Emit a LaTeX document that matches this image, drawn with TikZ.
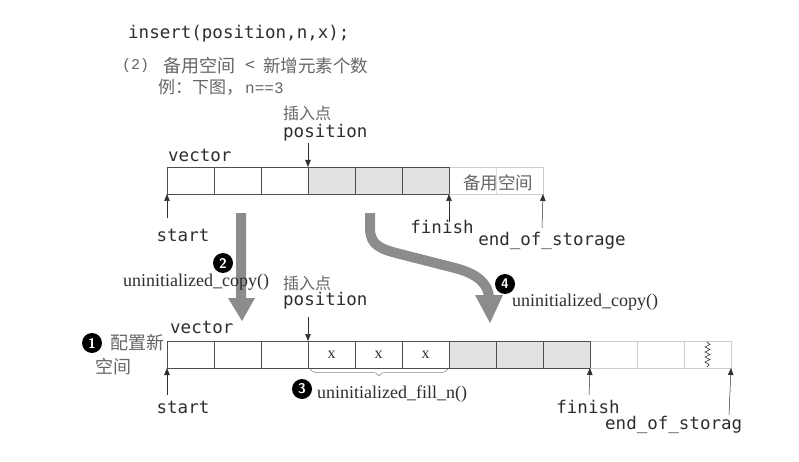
\documentclass[tikz,border=0pt]{standalone}
\usepackage{fontspec}
\setmainfont{Liberation Serif}
\setmonofont{DejaVu Sans Mono}
\newfontfamily\cjk{Noto Sans CJK SC}
\newfontfamily\lmono{Liberation Mono}
\usetikzlibrary{arrows.meta,decorations.pathreplacing}
\definecolor{ink}{HTML}{2E2E2E}
\definecolor{soft}{HTML}{666666}
\definecolor{big}{HTML}{8C8C8C}
\definecolor{shade}{HTML}{E2E2E2}
\definecolor{spare}{HTML}{CCCCCC}
\definecolor{faint}{HTML}{E0E0E0}
\tikzset{
  cell/.style={draw=ink!85, minimum width=47pt, minimum height=27pt, inner sep=0pt, outer sep=0pt, line width=0.6pt},
  gcell/.style={cell, fill=shade},
  scell/.style={cell, draw=spare, line width=0.5pt},
  ptr/.style={-{Triangle[length=7pt,width=5.5pt]}, draw=ink, line width=0.5pt},
  mono/.style={font=\ttfamily\fontsize{17.5}{18}\selectfont, text=ink, inner sep=0pt},
  serif/.style={font=\fontsize{18}{18}\selectfont, text=ink, inner sep=0pt},
  zh/.style={font=\cjk\fontsize{16}{16}\selectfont, text=soft, inner sep=0pt},
  zhbig/.style={font=\cjk\fontsize{17.5}{18}\selectfont, text=soft, inner sep=0pt},
  num/.style={circle, fill=black, text=white, minimum size=20pt, inner sep=0pt, font=\sffamily\bfseries\fontsize{14}{14}\selectfont},
  bigarrow/.style={fill=big},
}
\begin{document}
\begin{tikzpicture}[x=1pt,y=-1pt]
\useasboundingbox (0,0) rectangle (799,462);
\fill[white] (0,0) rectangle (799,462);

% header
\node[mono, anchor=west] (hdr) at (128,34) {insert(position,n,x);};
\node[font=\lmono\fontsize{15}{15}\selectfont, text=soft, inner sep=0pt, anchor=west] (two) at (122,66) {(2)};
\node[zhbig, font=\cjk\fontsize{18}{18}\selectfont, anchor=west] (cond1) at (163,66) {备用空间};
\node[zhbig, anchor=center] (lt) at (250,66) {<};
\node[zhbig, anchor=west] (cond2) at (263,66) {新增元素个数};
\node[zhbig, font=\cjk\fontsize{17}{17}\selectfont, anchor=west] (ex) at (158,87) {例：下图，};
\node[font=\lmono\fontsize{16}{16}\selectfont, text=soft, inner sep=0pt, anchor=west] (n3) at (245,88) {n==3};

% big arrows (behind)
\fill[bigarrow] (236,213) -- (246,213) -- (246,298) -- (255,298) -- (242,321) -- (228,298) -- (236,298) -- cycle;
\draw[big, line width=10pt] (370,213) -- (370,230) .. controls (371,245) and (380,249) .. (400,254) -- (455,268) .. controls (478,274) and (488,284) .. (489,297);
\fill[bigarrow] (475,295) -- (503,295) -- (490,323) -- cycle;

% top array
\foreach \i in {1,2,3} \node[cell] (t\i) at ({190.5+47*(\i-1)},180.5) {};
\foreach \i in {4,5,6} \node[gcell] (t\i) at ({190.5+47*(\i-1)},180.5) {};
\foreach \i in {7,8} \node[scell] (t\i) at ({190.5+47*(\i-1)},180.5) {};
\draw[faint, line width=0.6pt] (t7.north east) -- (t7.south east);
\draw[ink!85, line width=0.6pt] (t6.north east) -- (t6.south east);
\node[zhbig] (spare1) at (498,183) {备用空间};

\node[mono, anchor=west] (vec1) at (168,155) {vector};
\node[zh, anchor=west] (ins1) at (283,113) {插入点};
\node[mono, anchor=west] (pos1) at (283,133) {position};
\coordinate (pa1) at (308,143);
\draw[ptr] (pa1) -- (t4.north west);
\node[mono] (st1) at (183,235) {start};
\coordinate (sa1) at (167,218);
\draw[ptr] (sa1) -- (t1.south west);
\node[mono] (fi1) at (442,227) {finish};
\coordinate (fa1) at (449,222);
\draw[ptr] (fa1) -- (t6.south east);
\node[mono] (eos1) at (552,241) {end\_of\_storage};
\coordinate (ea1) at (542,228);
\draw[ptr] (ea1) -- (t8.south east);

% bottom array
\foreach \i in {1,2,3} \node[cell] (b\i) at ({190.5+47*(\i-1)},354.5) {};
\foreach \i in {4,5,6} \node[cell, font=\fontsize{16}{16}\selectfont, text=ink] (b\i) at ({190.5+47*(\i-1)},354.5) {x};
\foreach \i in {7,8,9} \node[gcell] (b\i) at ({190.5+47*(\i-1)},354.5) {};
\foreach \i in {10,11,12} \node[scell] (b\i) at ({190.5+47*(\i-1)},354.5) {};
\draw[ink!85, line width=0.6pt] (b9.north east) -- (b9.south east);
\draw[ink, line width=0.6pt] (707,342) -- (710,344.5) -- (705,347) -- (710,349.5) -- (705,352) -- (710,354.5) -- (705,357) -- (710,359.5) -- (705,362) -- (709,364.5) -- (707,367);

\node[mono, anchor=west] (vec2) at (170,327) {vector};
\node[zh, anchor=west] (ins2) at (283,283) {插入点};
\node[mono, anchor=west] (pos2) at (283,301) {position};
\coordinate (pa2) at (308,317);
\draw[ptr] (pa2) -- (b4.north west);
\node[mono] (st2) at (183,407) {start};
\coordinate (sa2) at (167,395);
\draw[ptr] (sa2) -- (b1.south west);
\node[mono] (fi2) at (588,407) {finish};
\coordinate (fa2) at (589,395);
\draw[ptr] (fa2) -- (b9.south east);
\node[mono, anchor=west] (eos2) at (605,425) {end\_of\_storag};
\coordinate (ea2) at (729,415);
\draw[ptr] (ea2) -- (b12.south east);

% brace
\coordinate (br1) at (310,369);
\coordinate (br2) at (448,369);
\draw[soft!80, line width=0.5pt, decorate, decoration={brace, mirror, amplitude=7pt}] (br1) -- (br2);

% numbered labels
\node[num] (n1) at (92,343) {1};
\node[zhbig, font=\cjk\fontsize{18}{18}\selectfont, anchor=west] (cfg1) at (110,343) {配置新};
\node[zhbig, font=\cjk\fontsize{18}{18}\selectfont, anchor=west] (cfg2) at (95,367) {空间};
\node[num] (n2) at (223,263) {2};
\node[serif, anchor=west] (uc1) at (123,282) {uninitialized\_copy()};
\node[num] (n3c) at (302,389) {3};
\node[serif, anchor=west] (uf) at (317,394) {uninitialized\_fill\_n()};
\node[num] (n4) at (505,284) {4};
\node[serif, anchor=west] (uc2) at (512,302) {uninitialized\_copy()};
\end{tikzpicture}
\end{document}
